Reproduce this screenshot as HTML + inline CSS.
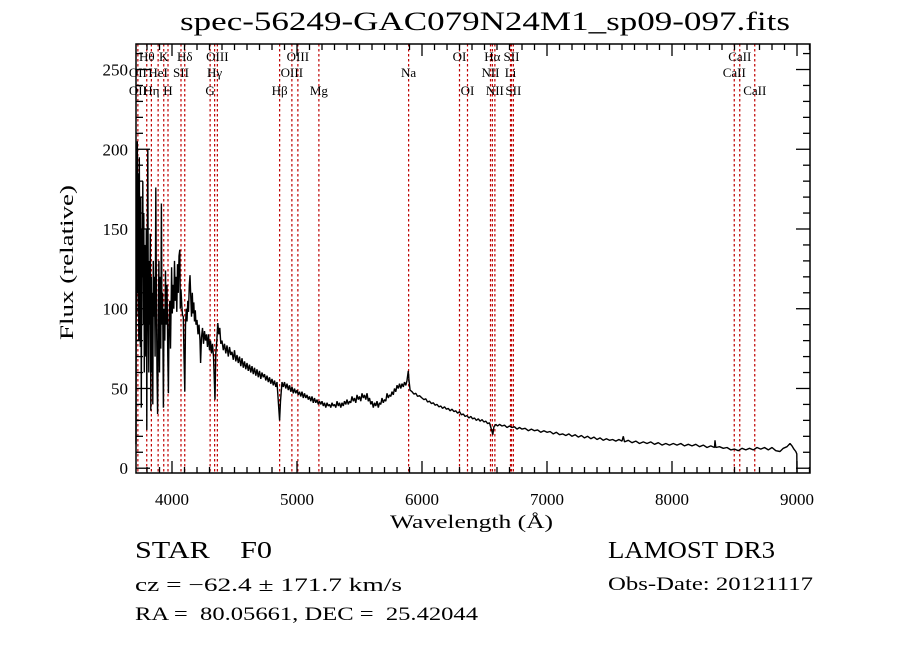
<!DOCTYPE html>
<html><head><meta charset="utf-8"><style>
html,body{margin:0;padding:0;background:#fff;}
svg{display:block;font-family:"Liberation Serif",serif;}
text{white-space:pre;}
</style></head><body>
<svg id="chart" width="900" height="649" viewBox="0 0 900 649" xmlns="http://www.w3.org/2000/svg" xml:space="preserve">
<rect width="900" height="649" fill="#fff"/>
<text x="180" y="30" font-size="26" textLength="610" lengthAdjust="spacingAndGlyphs">spec-56249-GAC079N24M1_sp09-097.fits</text>
<g id="lines"></g>
<g id="linelabels" font-size="13"></g>
<path id="spec" fill="none" stroke="#000" stroke-width="1.4" stroke-linejoin="bevel"/>
<g id="axes"></g>
<text x="390" y="528" font-size="19" textLength="163" lengthAdjust="spacingAndGlyphs">Wavelength (Å)</text>
<text transform="translate(73,340) rotate(-90)" font-size="19" textLength="155" lengthAdjust="spacingAndGlyphs">Flux (relative)</text>
<text x="135" y="558" font-size="24" textLength="137" lengthAdjust="spacingAndGlyphs">STAR    F0</text>
<text x="135" y="591" font-size="19" textLength="267" lengthAdjust="spacingAndGlyphs">cz = −62.4 ± 171.7 km/s</text>
<text x="135" y="620" font-size="19" textLength="343" lengthAdjust="spacingAndGlyphs">RA =  80.05661, DEC =  25.42044</text>
<text x="608" y="558" font-size="24" textLength="167" lengthAdjust="spacingAndGlyphs">LAMOST DR3</text>
<text x="608" y="590" font-size="19" textLength="205" lengthAdjust="spacingAndGlyphs">Obs-Date: 20121117</text>
</svg>
<script>
const wavelengths=[3712,3714,3718,3722,3726,3730,3734,3738,3742,3746,3750,3754,3758,3762,3766,3770,3774,3778,3782,3786,3790,3794,3798,3802,3806,3810,3814,3818,3822,3826,3830,3834,3838,3842,3846,3850,3855,3860,3865,3870,3875,3880,3885,3890,3895,3900,3905,3910,3915,3920,3925,3931,3936,3942,3948,3954,3960,3966,3971,3976,3982,3988,3994,3997,4002,4008,4014,4020,4026,4032,4038,4044,4050,4056,4062,4066,4072,4078,4084,4090,4096,4102,4108,4114,4120,4126,4132,4138,4144,4150,4156,4162,4168,4174,4180,4186,4192,4200,4208,4216,4224,4229,4236,4244,4252,4260,4268,4276,4284,4292,4300,4308,4316,4324,4332,4340,4344,4350,4358,4366,4374,4382,4390,
4400,4410,4420,4430,4440,4450,4460,4470,4480,4490,4500,4510,4520,4530,4540,4550,4560,4570,4580,4590,4600,4610,4620,4630,4640,4650,4660,4670,4680,4690,4700,4710,4720,4730,4740,4750,4760,4770,4780,4790,4800,4810,4820,4830,4840,4852,4861,4868,
4880,4890,4900,4910,4920,4930,4940,4950,4960,4970,4980,4990,5000,5010,5020,5030,5040,5050,5060,5070,5080,5090,5100,5110,5120,5130,5140,5150,5160,5170,5180,5190,5200,5210,5220,5230,5240,5250,5260,5270,5280,5290,5300,5310,5320,5330,5340,5350,5360,5370,5380,5390,5400,5410,5420,5430,5440,5450,5460,5470,5480,5490,5500,5510,5520,5530,5540,5550,5560,5570,5580,5590,5600,5610,5620,5630,5640,5650,5660,5670,5680,5690,5700,5710,5720,5730,5740,5750,5760,5770,5780,5790,5800,5810,5820,5830,5840,5850,5860,5870,5880,5890,5896,5905,
5920,5935,5950,5965,5980,6000,6015,6030,6045,6060,6075,6090,6105,6120,6135,6150,6165,6180,6195,6210,6225,6240,6255,6270,6285,6300,6315,6330,6345,6360,6375,6390,6405,6420,6435,6450,6465,6480,6495,6510,6525,6540,6560,6566,6575,6590,6605,6620,6640,6660,6680,6700,6720,6740,6760,6780,6800,6825,6850,6875,6900,6925,6950,6975,7000,7025,7050,7075,7100,7125,7150,7175,7200,7225,7250,7275,7300,7325,7350,7375,7400,7425,7450,7475,7500,7525,7550,7575,7600,7610,7620,7650,7680,7710,7740,7770,7800,7830,7860,7890,7920,7950,7980,8010,8040,8070,8100,8130,8160,8190,8220,8250,8280,8310,8340,8344,8350,8380,8410,8440,8470,8500,8530,8560,8590,8620,8650,8680,8710,8740,8770,8800,8830,8864,8890,8920,8944,8960,8975,8990,8998,9000];
const fluxes=[15,175,95,205,110,185,80,195,130,76,170,38,150,120,180,90,160,60,140,115,70,150,24,140,200,100,60,130,90,147,36,120,60,110,40,130,95,120,70,176,110,60,34,90,130,60,120,75,166,90,110,38,100,80,124,90,115,70,47,90,105,75,110,126,97,115,100,130,105,120,98,128,110,133,137,100,112,102,96,95,70,48,90,100,92,105,98,115,121,107,95,110,97,104,92,99,90,93,84,90,80,66,82,88,78,86,80,84,76,84,74,80,72,78,70,52,43,72,80,91,84,88,78,
80,74,78,72,77,70,76,71,73,68,74,67,71,66,70,64,69,63,67,62,66,61,65,60,64,59,63,58,62,57,61,56,60,57,59,55,58,54,57,53,56,52,55,51,54,40,30,42,
54,51,54,50,53,49,52,48,51,47,50,47,49,46,48,45,48,44,47,44,46,43,45,42,45,41,44,41,43,40,42,40,42,39,41,38,41,39,40,38,41,39,40,38,42,39,41,38,41,39,42,40,43,40,42,41,45,42,44,41,46,43,45,42,47,44,46,43,47,42,44,40,42,38,41,39,42,38,41,40,44,41,43,42,47,44,46,45,48,46,50,48,52,50,53,50,53,51,54,52,55,61,55,49,
48,46.5,47,45,45.5,44,43,43.5,41.5,42,40.5,41,39.5,40,38.5,39,37.5,38.5,37,37.5,36,37,35.5,36,34.5,35.5,33.5,34,32.5,33,31.5,32.5,31,31.5,30,31,29.5,30.5,29,29.5,28,28.5,23,21,26,27.5,26.5,27.5,26.5,27,25.5,26.5,25.5,26,24.5,25.5,24.5,25,23.5,24.5,23.5,24,22.5,23.5,22.5,23,21.5,22.5,21,21.5,20.5,21.5,20,21,19.5,20.5,19,20,18.5,19.5,18,19,17.5,18.5,17.5,18,17,18,17,20,16.5,17.5,16,17,15.5,16.5,15.5,16.5,15,16,14.5,15.5,14.5,15.5,14.5,15.5,14,15,14,15,13.5,14.5,13,14,13,17.5,13,13.5,12.5,13,11.5,12,11,12.5,11.5,12.5,11.5,13,12,13,11.5,13,11,10.5,12.5,13.5,15.5,14,12,10.5,9,-3];
const lineWaves=[3727,3798,3835,3889,3934,3968,4072,4102,4305,4341,4363,4861,4959,5007,5175,5893,6300,6364,6548,6563,6583,6708,6716,6731,8498,8542,8662];
const labelTexts=["OII","Hθ","OII","Hη","HeI","K","H","SII","Hδ","G","Hγ","OIII","Hβ","OIII","OIII","Mg","Na","OI","OI","NII","Hα","NII","Li","SII","SII","CaII","CaII","CaII"];
const labelWaves=[3727,3798,3727,3835,3889,3934,3968,4072,4102,4305,4341,4363,4861,4959,5007,5175,5893,6300,6364,6548,6563,6583,6708,6716,6731,8498,8542,8662];
const labelRows=[2,1,3,3,2,1,3,2,1,3,2,1,3,2,1,3,2,1,3,2,1,3,2,1,3,2,1,3];
const xTicks=[4000,5000,6000,7000,8000,9000];
const yTicks=[0,50,100,150,200,250];
const X0=136,X1=810,Y0=44,Y1=473,WMIN=3712,WMAX=9104,FMIN=-3,FMAX=266;
const xs=w=>X0+(w-WMIN)/(WMAX-WMIN)*(X1-X0);
const ys=f=>Y1-(f-FMIN)/(FMAX-FMIN)*(Y1-Y0);
const NS="http://www.w3.org/2000/svg";
function mk(tag,attrs,parent){const e=document.createElementNS(NS,tag);for(const k in attrs)e.setAttribute(k,attrs[k]);parent.appendChild(e);return e;}
let d="";
wavelengths.forEach((w,i)=>{d+=(i?"L":"M")+xs(w).toFixed(1)+" "+ys(fluxes[i]).toFixed(1);});
document.getElementById("spec").setAttribute("d",d);
const lg=document.getElementById("lines");
lineWaves.forEach(w=>{const l=mk("line",{x1:xs(w),x2:xs(w),y1:Y0,y2:Y1,stroke:"#c00000","stroke-width":1.2,"stroke-dasharray":"2.5 2.5"},lg);

});
const ll=document.getElementById("linelabels");
const rowY={1:61,2:77,3:95};
labelTexts.forEach((t,i)=>{const e=mk("text",{x:xs(labelWaves[i]),y:rowY[labelRows[i]],"text-anchor":"middle"},ll);e.textContent=t;

});
const ax=document.getElementById("axes");
mk("rect",{x:X0,y:Y0,width:X1-X0,height:Y1-Y0,fill:"none",stroke:"#000","stroke-width":1.5},ax);
for(let w=3800;w<=9100;w+=100){const x=xs(w);const L=(w%1000===0)?12:6;
mk("line",{x1:x,x2:x,y1:Y1,y2:Y1-L,stroke:"#000","stroke-width":1.3},ax);
mk("line",{x1:x,x2:x,y1:Y0,y2:Y0+L,stroke:"#000","stroke-width":1.3},ax);}
for(let f=0;f<=260;f+=10){const y=ys(f);const L=(f%50===0)?14:7;
mk("line",{x1:X0,x2:X0+L,y1:y,y2:y,stroke:"#000","stroke-width":1.3},ax);
mk("line",{x1:X1,x2:X1-L,y1:y,y2:y,stroke:"#000","stroke-width":1.3},ax);}
xTicks.forEach(v=>{const e=mk("text",{x:xs(v),y:505,"text-anchor":"middle","font-size":17},ax);e.textContent=v;

});
yTicks.forEach(v=>{const e=mk("text",{x:128,y:ys(v)+6,"text-anchor":"end","font-size":17},ax);e.textContent=v;

});
</script>
</body></html>
